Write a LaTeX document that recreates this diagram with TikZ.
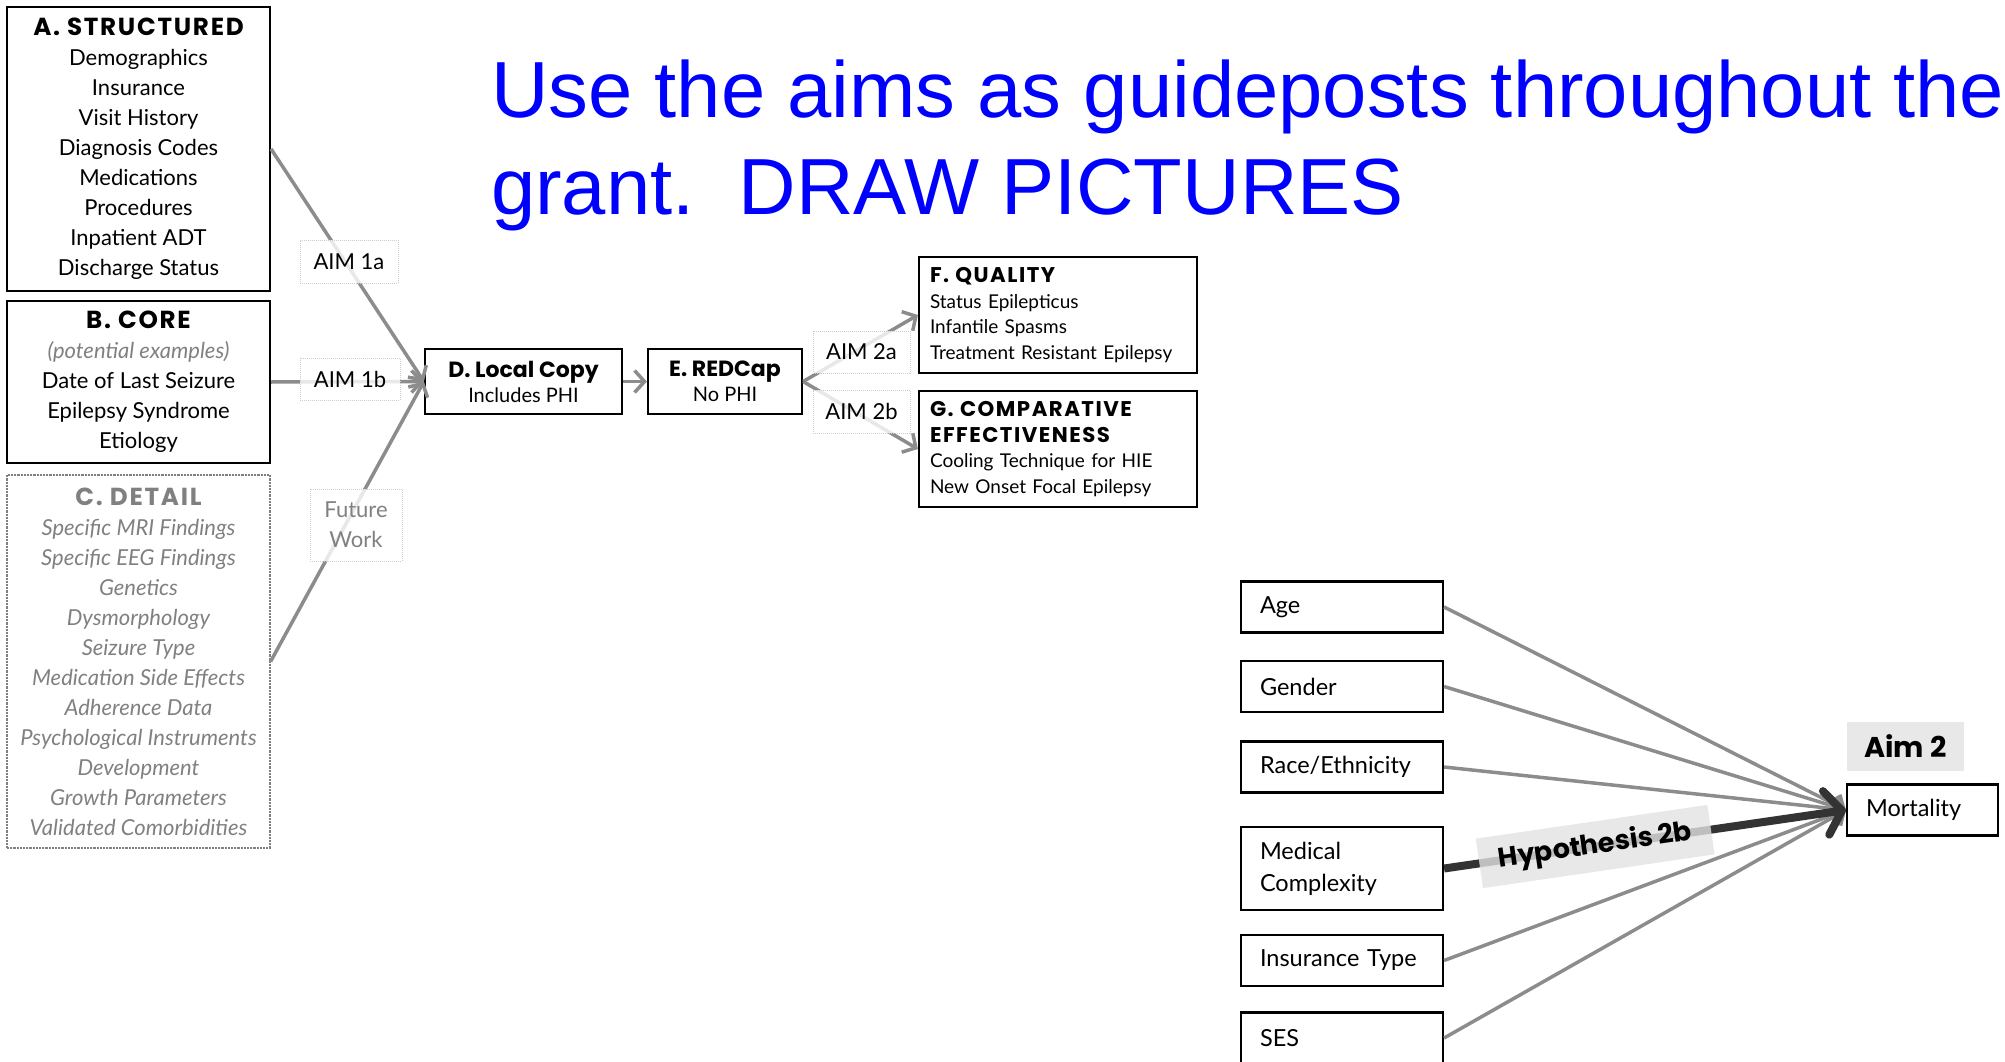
\documentclass[tikz,border=0pt]{standalone}
\usepackage{fontspec}
\setmainfont{Lato}
\newfontfamily\headfont{Liberation Sans}
\newfontfamily\heavyfont[Scale=1.12, LetterSpace=7]{Poppins}
\newfontfamily\heavymixed[Scale=1.1]{Poppins}
\usepackage{tikz}
\usetikzlibrary{arrows,arrows.meta}
\definecolor{linegray}{RGB}{140,140,140}
\definecolor{textgray}{RGB}{128,128,128}
\definecolor{dotgray}{RGB}{205,205,205}
\definecolor{darkline}{RGB}{51,51,51}
\definecolor{labelfill}{RGB}{226,226,226}
\newcommand{\boxtitle}[1]{{\heavyfont\bfseries\upshape #1}}
\newcommand{\steptitle}[1]{{\heavymixed\bfseries #1}}
\tikzstyle{databox}=[draw, line width=2.2, minimum width=263, inner sep=0, align=center, font=\fontsize{22}{30}\selectfont]
\tikzstyle{detailbox}=[databox, draw=textgray, densely dotted, line width=1.2, text=textgray, font=\fontsize{22}{30}\selectfont\itshape]
\tikzstyle{stepbox}=[draw, line width=2.2, minimum height=65, inner sep=0, align=center, font=\fontsize{20}{25}\selectfont]
\tikzstyle{outbox}=[draw, line width=2.2, minimum height=116, inner xsep=11, inner ysep=0, text width=256, align=left, font=\fontsize{19}{25.5}\selectfont]
\tikzstyle{varbox}=[draw, line width=2.2, minimum height=51, inner xsep=19, inner ysep=0, text width=164, align=left, font=\fontsize{23.5}{32}\selectfont]
\tikzstyle{aimlabel}=[draw=dotgray, densely dotted, line width=1, fill=white, fill opacity=0.8, text opacity=1, inner sep=0, font=\fontsize{22}{30}\selectfont]
\tikzstyle{aimline}=[draw=linegray, line width=3.5, -{Straight Barb[length=10pt,width=22pt]}]
\tikzstyle{hypoline}=[draw=darkline, line width=8, -{Straight Barb[length=16pt,width=44pt,round]}]
\tikzstyle{greylabel}=[fill=labelfill, fill opacity=0.8, text opacity=1, inner sep=0]

\begin{document}
\begin{tikzpicture}[x=1pt, y=-1pt]
	\useasboundingbox (0,0) rectangle (2005,1062);
	\node[anchor=base west, inner sep=0, text=blue, font=\headfont\fontsize{79.6}{96}\selectfont] (titleA) at (491,118) {Use the aims as guideposts throughout the};
	\node[anchor=base west, inner sep=0, text=blue, font=\headfont\fontsize{79.6}{96}\selectfont] (titleB) at (491,214) {grant.\ \ DRAW PICTURES};
%
	\node[databox, minimum height=284] (structured) at (138.5,149) {\boxtitle{A. STRUCTURED}\\Demographics\\Insurance\\Visit History\\Diagnosis Codes\\Medications\\Procedures\\Inpatient ADT\\Discharge Status};
	\node[databox, minimum height=162] (core) at (138.5,382) {\boxtitle{B. CORE}\\{\color{textgray}\itshape (potential examples)}\\Date of Last Seizure\\Epilepsy Syndrome\\Etiology};
	\node[detailbox, minimum height=373] (detail) at (138.5,661.5) {\boxtitle{C. DETAIL}\\Specific MRI Findings\\Specific EEG Findings\\Genetics\\Dysmorphology\\Seizure Type\\Medication Side Effects\\Adherence Data\\Psychological Instruments\\Development\\Growth Parameters\\Validated Comorbidities};
%
	\node[stepbox, minimum width=197] (local) at (523.5,381.5) {\steptitle{D. Local Copy}\\Includes PHI};
	\node[stepbox, minimum width=154] (redcap) at (725,381.5) {\steptitle{E. REDCap}\\No PHI};
	\node[outbox] (quality) at (1058,315) {\boxtitle{F. QUALITY}\\Status Epilepticus\\Infantile Spasms\\Treatment Resistant Epilepsy};
	\node[outbox] (compare) at (1058,449) {\boxtitle{G. COMPARATIVE}\\\boxtitle{EFFECTIVENESS}\\Cooling Technique for HIE\\New Onset Focal Epilepsy};
%
	\draw[aimline] (structured.east) -- (local.west);
	\draw[aimline] (core.east) -- (local.west);
	\draw[aimline] (detail.east) -- (local.west);
	\draw[aimline] (local.east) -- (redcap.west);
	\draw[aimline] (redcap.east) -- (quality.west);
	\draw[aimline] (redcap.east) -- (compare.west);
%
	\node[aimlabel, minimum width=98, minimum height=43] (aimIa) at (349,261.5) {AIM 1a};
	\node[aimlabel, minimum width=100, minimum height=42] (aimIb) at (350,379) {AIM 1b};
	\node[aimlabel, minimum width=92, minimum height=72, align=center, text=textgray] (future) at (356,525) {Future\\Work};
	\node[aimlabel, minimum width=97, minimum height=42] (aimIIa) at (861.5,352) {AIM 2a};
	\node[aimlabel, minimum width=97, minimum height=43] (aimIIb) at (861.5,411.5) {AIM 2b};
%
	\node[varbox] (age) at (1342,607) {Age};
	\node[varbox] (gender) at (1342,686.5) {Gender};
	\node[varbox] (race) at (1342,767) {Race/Ethnicity};
	\node[varbox, minimum height=83] (medical) at (1342,868.5) {Medical\\Complexity};
	\node[varbox] (insurance) at (1342,960.5) {Insurance Type};
	\node[varbox] (ses) at (1342,1038) {SES};
	\node[varbox, text width=113] (mortality) at (1922.5,810) {Mortality};
	\node[greylabel, minimum width=117, minimum height=49, font=\heavymixed\bfseries\fontsize{26}{30}\selectfont] (aimII) at (1905.5,746.5) {Aim 2};
%
	\foreach \v in {age,gender,race,insurance,ses}
		\draw[aimline] (\v.east) -- (mortality.west);
	\draw[hypoline] (medical.east) -- node[greylabel, sloped, pos=.376, minimum width=234, minimum height=50, font=\heavymixed\bfseries\fontsize{24.5}{30}\selectfont] (hypo) {Hypothesis 2b} (mortality.west);
\end{tikzpicture}
\end{document}
